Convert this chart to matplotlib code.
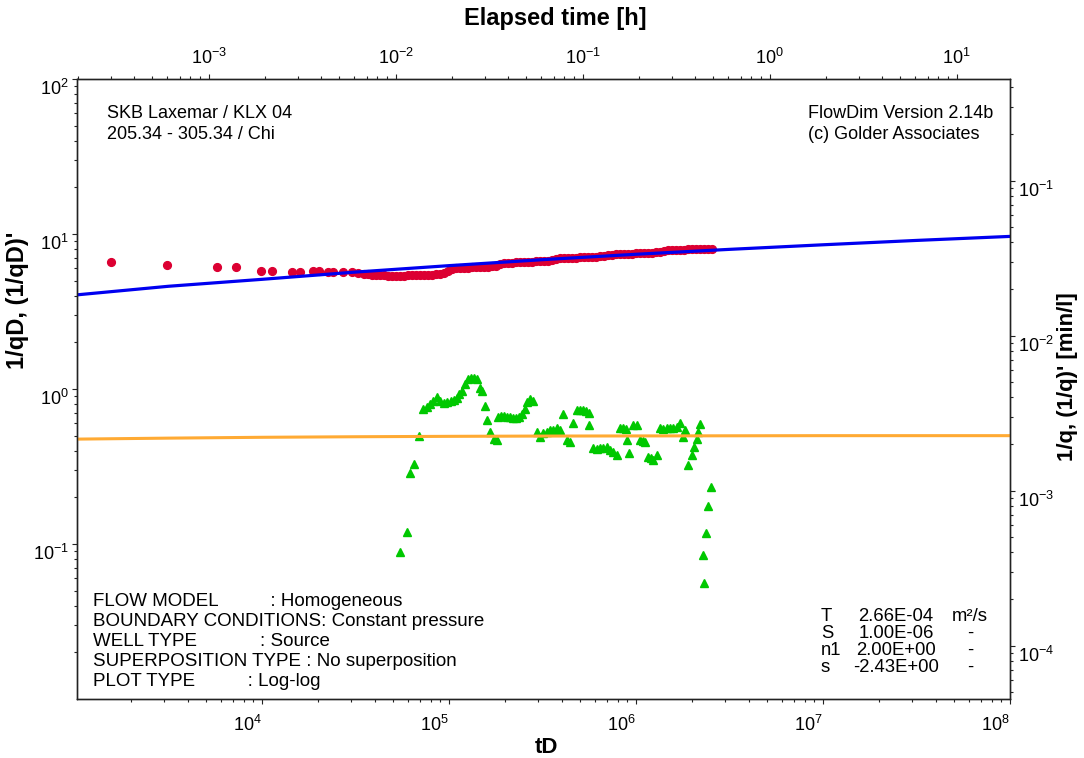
import matplotlib
matplotlib.use("Agg")
import matplotlib.pyplot as plt
from matplotlib.ticker import LogLocator, NullFormatter, FixedLocator

plt.rcParams['font.family'] = ['Liberation Sans', 'DejaVu Sans']
plt.rcParams['mathtext.fontset'] = 'custom'
plt.rcParams['mathtext.rm'] = 'Liberation Sans'
plt.rcParams['mathtext.it'] = 'Liberation Sans:italic'
plt.rcParams['mathtext.bf'] = 'Liberation Sans:bold'

# ---- measured response, dimensionless: 1/qD versus tD ----
td_obs = [1557, 3105, 5724, 7261, 9878, 1.135e4, 1.452e4, 1.597e4, 1.880e4,
          2.025e4, 2.262e4, 2.406e4, 2.722e4, 3.018e4, 3.273e4,
          3.51e4, 3.69e4, 3.88e4, 4.07e4, 4.28e4, 4.49e4, 4.72e4, 4.96e4,
          5.21e4, 5.47e4, 5.75e4, 6.04e4, 6.34e4, 6.66e4, 7.00e4, 7.35e4,
          7.72e4, 8.11e4, 8.52e4, 8.95e4, 9.40e4, 9.88e4, 1.04e5, 1.09e5,
          1.15e5, 1.20e5, 1.26e5, 1.33e5, 1.39e5, 1.47e5, 1.54e5, 1.62e5,
          1.70e5, 1.78e5, 1.87e5, 1.97e5, 2.07e5, 2.17e5, 2.28e5, 2.40e5,
          2.52e5, 2.65e5, 2.78e5, 2.92e5, 3.07e5, 3.22e5, 3.39e5, 3.56e5,
          3.74e5, 3.92e5, 4.12e5, 4.33e5, 4.55e5, 4.78e5, 5.02e5, 5.27e5,
          5.54e5, 5.82e5, 6.11e5, 6.42e5, 6.74e5, 7.08e5, 7.44e5, 7.82e5,
          8.21e5, 8.63e5, 9.06e5, 9.52e5, 1.00e6, 1.05e6, 1.10e6, 1.16e6,
          1.22e6, 1.28e6, 1.34e6, 1.41e6, 1.48e6, 1.56e6, 1.64e6, 1.72e6,
          1.81e6, 1.90e6, 1.99e6, 2.09e6, 2.20e6, 2.31e6, 2.43e6, 2.55e6]
inv_qd_obs = [6.60, 6.34, 6.13, 6.10, 5.80, 5.76, 5.71, 5.71, 5.75,
              5.75, 5.71, 5.69, 5.66, 5.66, 5.63,
              5.52, 5.48, 5.44, 5.42, 5.40, 5.40, 5.38, 5.38,
              5.38, 5.38, 5.38, 5.40, 5.40, 5.40, 5.42, 5.42,
              5.44, 5.44, 5.48, 5.52, 5.64, 5.81, 5.95, 6.00,
              6.03, 6.05, 6.07, 6.09, 6.11, 6.13, 6.15, 6.16,
              6.18, 6.22, 6.41, 6.50, 6.52, 6.54, 6.56, 6.58,
              6.60, 6.62, 6.64, 6.66, 6.68, 6.70, 6.72, 6.76,
              6.85, 6.95, 6.98, 7.00, 7.02, 7.04, 7.06, 7.09,
              7.11, 7.13, 7.15, 7.17, 7.19, 7.32, 7.37, 7.39,
              7.41, 7.43, 7.46, 7.48, 7.50, 7.52, 7.54, 7.56,
              7.58, 7.60, 7.65, 7.80, 7.84, 7.86, 7.88, 7.91,
              7.93, 7.95, 7.97, 8.00, 8.01, 8.02, 8.03, 8.04]

# ---- measured derivative (1/qD)' ----
td_der = [5.47e4, 5.94e4, 6.18e4, 6.50e4, 6.94e4, 7.29e4, 7.60e4, 7.91e4,
          8.21e4, 8.60e4, 8.95e4, 9.35e4, 9.76e4, 1.019e5, 1.063e5, 1.104e5,
          1.138e5, 1.174e5, 1.225e5, 1.268e5, 1.311e5, 1.360e5, 1.411e5,
          1.456e5, 1.501e5, 1.558e5, 1.603e5, 1.657e5, 1.740e5, 1.806e5,
          1.835e5, 1.897e5, 1.969e5, 2.043e5, 2.120e5, 2.199e5, 2.296e5,
          2.382e5, 2.457e5, 2.534e5, 2.613e5, 2.712e5, 2.814e5, 2.944e5,
          3.067e5, 3.182e5, 3.331e5, 3.468e5, 3.599e5, 3.767e5, 3.924e5,
          4.055e5, 4.261e5, 4.437e5, 4.621e5, 4.819e5, 4.988e5, 5.176e5,
          5.371e5, 5.572e5, 5.627e5, 5.911e5, 6.150e5, 6.419e5, 6.702e5,
          6.972e5, 7.261e5, 7.562e5, 7.943e5, 8.212e5, 8.522e5, 8.789e5,
          8.986e5, 9.210e5, 9.674e5, 1.009e6, 1.050e6, 1.090e6, 1.117e6,
          1.164e6, 1.203e6, 1.237e6, 1.290e6, 1.344e6, 1.403e6, 1.460e6,
          1.520e6, 1.583e6, 1.647e6, 1.719e6, 1.790e6, 1.828e6, 1.904e6,
          1.986e6, 2.043e6, 2.112e6, 2.154e6, 2.199e6, 2.273e6, 2.310e6,
          2.368e6, 2.436e6, 2.518e6]
der_obs = [0.0892, 0.120, 0.286, 0.328, 0.497, 0.740, 0.769, 0.800,
           0.837, 0.884, 0.837, 0.816, 0.828, 0.837, 0.843, 0.875,
           0.928, 0.975, 1.077, 1.155, 1.178, 1.178, 1.160,
           1.015, 0.971, 0.777, 0.631, 0.530, 0.476, 0.472,
           0.663, 0.670, 0.670, 0.660, 0.655, 0.650, 0.647,
           0.660, 0.690, 0.743, 0.824, 0.858, 0.837, 0.530,
           0.492, 0.520, 0.530, 0.540, 0.544, 0.558, 0.544,
           0.690, 0.469, 0.457, 0.601, 0.732, 0.737, 0.732,
           0.721, 0.700, 0.586, 0.414, 0.413, 0.414, 0.416,
           0.421, 0.407, 0.394, 0.375, 0.558, 0.564, 0.556,
           0.469, 0.388, 0.586, 0.586, 0.469, 0.465, 0.457,
           0.366, 0.359, 0.348, 0.375, 0.558, 0.556, 0.558,
           0.560, 0.558, 0.569, 0.601, 0.488, 0.544, 0.323,
           0.375, 0.424, 0.474, 0.530, 0.594, 0.0849, 0.0563,
           0.117, 0.176, 0.234]

# ---- model curves ----
td_model = [1025, 3162, 1e4, 3.162e4, 1e5, 3.162e5, 1e6, 3.162e6, 1e7, 3.162e7, 1e8]
inv_qd_model = [4.05, 4.60, 5.10, 5.68, 6.25, 6.83, 7.40, 7.96, 8.52, 9.09, 9.65]
der_model = [0.475, 0.482, 0.488, 0.492, 0.495, 0.497, 0.498, 0.499, 0.500, 0.500, 0.500]

# ---- axis ranges and ticks ----
td_lim = (1025, 1e8)
hours_lim = (1.98e-4, 19.3)
inv_qd_lim = (0.01, 100)
inv_q_lim = (4.519e-5, 0.4519)
td_ticks = [1e4, 1e5, 1e6, 1e7, 1e8]
hours_ticks = [1e-3, 1e-2, 1e-1, 1e0, 1e1]
inv_qd_ticks = [1e-1, 1e0, 1e1, 1e2]
inv_q_ticks = [1e-4, 1e-3, 1e-2, 1e-1]

header_left = ["SKB Laxemar / KLX 04", "205.34 - 305.34 / Chi"]
header_right = ["FlowDim Version 2.14b", "(c) Golder Associates"]
model_lines = ["FLOW MODEL" + " " * 10 + ": Homogeneous",
               "BOUNDARY CONDITIONS: Constant pressure",
               "WELL TYPE" + " " * 12 + ": Source",
               "SUPERPOSITION TYPE : No superposition",
               "PLOT TYPE" + " " * 10 + ": Log-log"]
param_names = ["T", "S", "n1", "s"]
param_values = ["2.66E-04", "1.00E-06", "2.00E+00", "-2.43E+00"]
param_units = ["m\u00b2/s", "-", "-", "-"]

W, H = 1084, 758
fig = plt.figure(figsize=(W / 100, H / 100), dpi=100)
ax = fig.add_axes([77 / W, 1 - 699 / H, 933 / W, 620 / H])


def fx(x):
    return x / W


def fy(y):
    return 1 - y / H


ax.set_xscale('log')
ax.set_yscale('log')
ax.plot(td_obs, inv_qd_obs, 'o', color='#DC0032', mec='#DC0032', ms=5.6, zorder=2)
ax.plot(td_der, der_obs, '^', color='#00C800', mec='#00C800', ms=6.4, zorder=2)
ax.plot(td_model, inv_qd_model, '-', color='#0000F0', lw=2.3, zorder=3)
ax.plot(td_model, der_model, '-', color='#FFAA33', lw=2.2, zorder=3)
ax.set_xlim(*td_lim)
ax.set_ylim(*inv_qd_lim)

ax_t = ax.twiny()
ax_t.set_xscale('log')
ax_t.set_xlim(*hours_lim)
ax_r = ax.twinx()
ax_r.set_yscale('log')
ax_r.set_ylim(*inv_q_lim)

ax.xaxis.set_major_locator(FixedLocator(td_ticks))
ax.yaxis.set_major_locator(FixedLocator(inv_qd_ticks))
ax_t.xaxis.set_major_locator(FixedLocator(hours_ticks))
ax_r.yaxis.set_major_locator(FixedLocator(inv_q_ticks))
for axis in (ax.xaxis, ax.yaxis, ax_t.xaxis, ax_r.yaxis):
    axis.set_minor_locator(LogLocator(base=10, subs=[2, 3, 4, 5, 6, 7, 8, 9], numticks=100))
    axis.set_minor_formatter(NullFormatter())

for a in (ax, ax_t, ax_r):
    for sp in a.spines.values():
        sp.set_linewidth(0.9)
        sp.set_color('#222222')
    a.tick_params(which='both', direction='out', width=0.8, color='#222222',
                  labelsize=13, labelcolor='black')
    a.tick_params(which='major', length=3.8)
    a.tick_params(which='minor', length=2.3)

ax.tick_params(axis='x', pad=8)
ax.tick_params(axis='y', pad=2)
ax_t.tick_params(axis='x', pad=4)
ax_r.tick_params(axis='y', pad=2)

for lbl in ax.get_xticklabels():
    lbl.set_horizontalalignment('right')
for lbl in ax.get_yticklabels():
    lbl.set_verticalalignment('top')
for lbl in ax_r.get_yticklabels():
    lbl.set_verticalalignment('top')

# axis titles
fig.text(fx(555), fy(25), "Elapsed time [h]", ha='center', va='baseline',
         fontsize=17, fontweight='bold')
fig.text(fx(546), fy(753), "tD", ha='center', va='baseline',
         fontsize=16, fontweight='bold')
fig.text(fx(18), fy(300), "1/qD, (1/qD)'", ha='center', va='center',
         rotation=90, fontsize=17, fontweight='bold')
fig.text(fx(1068), fy(377), "1/q, (1/q)' [min/l]", ha='center', va='center',
         rotation=90, fontsize=16, fontweight='bold')

# header annotations
for i, (l, r) in enumerate(zip(header_left, header_right)):
    yb = 118 + 21 * i
    fig.text(fx(107), fy(yb), l, ha='left', va='baseline', fontsize=13)
    fig.text(fx(808), fy(yb), r, ha='left', va='baseline', fontsize=13)

# model description
for i, line in enumerate(model_lines):
    fig.text(fx(93), fy(606 + 20 * i), line, ha='left', va='baseline', fontsize=13.5)

# fitted parameters
for i, (n, v, u) in enumerate(zip(param_names, param_values, param_units)):
    yb = 621 + 17 * i
    fig.text(fx(821), fy(yb), n, ha='left', va='baseline', fontsize=13.3)
    fig.text(fx(896), fy(yb), v, ha='center', va='baseline', fontsize=13.3)
    fig.text(fx(970), fy(yb), u, ha='center', va='baseline', fontsize=13.3)

fig.savefig("out.png", dpi=100, facecolor='white')
